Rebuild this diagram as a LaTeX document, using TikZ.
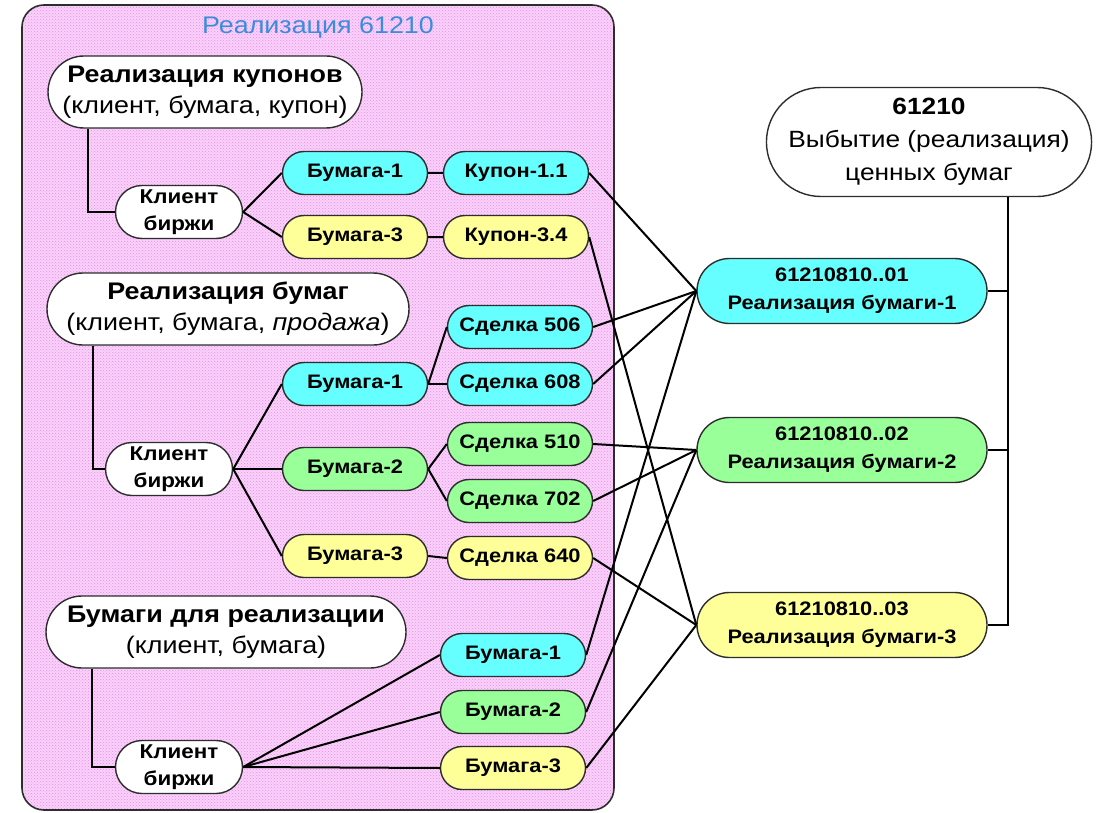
\documentclass[tikz,border=0pt]{standalone}
\usepackage{fontspec}
\setmainfont{Liberation Sans}[FakeStretch=1.12]
\usetikzlibrary{shapes.misc,patterns}
\definecolor{nodeCyan}{RGB}{102,255,255}
\definecolor{nodeGreen}{RGB}{153,255,153}
\definecolor{nodeYellow}{RGB}{255,255,153}
\definecolor{panelPink}{RGB}{250,210,250}
\definecolor{panelDot}{RGB}{236,140,236}
\definecolor{titleBlue}{RGB}{60,140,220}
\definecolor{edgeGray}{RGB}{45,45,45}
\begin{document}
\begin{tikzpicture}[x=1pt,y=-1pt,
  pill/.style={rounded rectangle, draw=edgeGray, line width=1.4pt, inner sep=0pt, align=center},
  head/.style={pill, fill=white, minimum height=72pt, font=\fontsize{24}{31}\selectfont},
  client/.style={pill, fill=white, minimum width=127pt, minimum height=53pt, font=\fontsize{20}{27}\selectfont\bfseries},
  item/.style={pill, minimum width=145pt, minimum height=43pt, font=\fontsize{19.5}{22}\selectfont\bfseries},
  acct/.style={pill, minimum width=290pt, minimum height=65pt, font=\fontsize{19.5}{28}\selectfont\bfseries},
  cy/.style={fill=nodeCyan}, gr/.style={fill=nodeGreen}, ye/.style={fill=nodeYellow},
  conn/.style={line width=2pt, black},
]
\useasboundingbox (0,0) rectangle (1102,813);

% realization panel
\fill[panelPink, rounded corners=22pt] (22,5) rectangle (614,810);
\fill[pattern=crosshatch dots, pattern color=panelDot, rounded corners=22pt] (22,5) rectangle (614,810);
\draw[edgeGray, line width=1.6pt, rounded corners=22pt] (22,5) rectangle (614,810);
\node[text=titleBlue, font=\fontsize{24}{26}\selectfont] (title) at (318,28) {Реализация 61210};

% coupons block
\node[head, minimum width=314pt] (hk) at (205,92) {\textbf{Реализация купонов}\\(клиент, бумага, купон)};
\node[client] (c1) at (179,212) {Клиент\\биржи};
\node[item,cy] (k1b1) at (355,173) {Бумага-1};
\node[item,cy] (k1p) at (516,173) {Купон-1.1};
\node[item,ye] (k1b3) at (355,237) {Бумага-3};
\node[item,ye] (k3p) at (516,237) {Купон-3.4};

% securities sale block
\node[head, minimum width=362pt] (hb) at (228,309) {\textbf{Реализация бумаг}\\(клиент, бумага, \textit{продажа})};
\node[client] (c2) at (169,469) {Клиент\\биржи};
\node[item,cy] (s1) at (355,384) {Бумага-1};
\node[item,gr] (s2) at (355,469) {Бумага-2};
\node[item,ye] (s3) at (355,556) {Бумага-3};
\node[item,cy] (d506) at (520,327) {Сделка 506};
\node[item,cy] (d608) at (520,384) {Сделка 608};
\node[item,gr] (d510) at (520,444) {Сделка 510};
\node[item,gr] (d702) at (520,501) {Сделка 702};
\node[item,ye] (d640) at (520,558) {Сделка 640};

% securities for sale block
\node[head, minimum width=360pt] (hr) at (226,632) {\textbf{Бумаги для реализации}\\(клиент, бумага)};
\node[client] (c3) at (179,767) {Клиент\\биржи};
\node[item,cy] (p1) at (513,655) {Бумага-1};
\node[item,gr] (p2) at (513,712) {Бумага-2};
\node[item,ye] (p3) at (513,768) {Бумага-3};

% accounts
\node[pill, fill=white, minimum width=322pt, minimum height=109pt, font=\fontsize{23.5}{33}\selectfont] (acc) at (929,142) {\textbf{61210}\\Выбытие (реализация)\\ценных бумаг};
\node[acct,cy] (r1) at (842,291) {61210810..01\\Реализация бумаги-1};
\node[acct,gr] (r2) at (842,450) {61210810..02\\Реализация бумаги-2};
\node[acct,ye] (r3) at (842,625) {61210810..03\\Реализация бумаги-3};

% trees inside the panel
\draw[conn] ([xshift=-117pt]hk.south) |- (c1.west);
\draw[conn] (c1.east) -- (k1b1.west);
\draw[conn] (c1.east) -- (k1b3.west);
\draw[conn] (k1b1) -- (k1p);
\draw[conn] (k1b3) -- (k3p);

\draw[conn] ([xshift=-135pt]hb.south) |- (c2.west);
\draw[conn] (c2.east) -- (s1.west);
\draw[conn] (c2.east) -- (s2.west);
\draw[conn] (c2.east) -- (s3.west);
\draw[conn] (s1.east) -- (d506.west);
\draw[conn] (s1.east) -- (d608.west);
\draw[conn] (s2.east) -- (d510.west);
\draw[conn] (s2.east) -- (d702.west);
\draw[conn] (s3.east) -- (d640.west);

\draw[conn] ([xshift=-134pt]hr.south) |- (c3.west);
\draw[conn] (c3.east) -- (p1.west);
\draw[conn] (c3.east) -- (p2.west);
\draw[conn] (c3.east) -- (p3.west);

% links to the accounts
\draw[conn] (k1p.east) -- (r1.west);
\draw[conn] (d506.east) -- (r1.west);
\draw[conn] (d608.east) -- (r1.west);
\draw[conn] (p1.east) -- (r1.west);
\draw[conn] (d510.east) -- (r2.west);
\draw[conn] (d702.east) -- (r2.west);
\draw[conn] (p2.east) -- (r2.west);
\draw[conn] (k3p.east) -- (r3.west);
\draw[conn] (d640.east) -- (r3.west);
\draw[conn] (p3.east) -- (r3.west);

% account bus
\coordinate (bus) at ([xshift=79pt]acc.south);
\draw[conn] (bus) |- (r3.east);
\draw[conn] (r1.east) -- (r1.east -| bus);
\draw[conn] (r2.east) -- (r2.east -| bus);
\end{tikzpicture}
\end{document}
